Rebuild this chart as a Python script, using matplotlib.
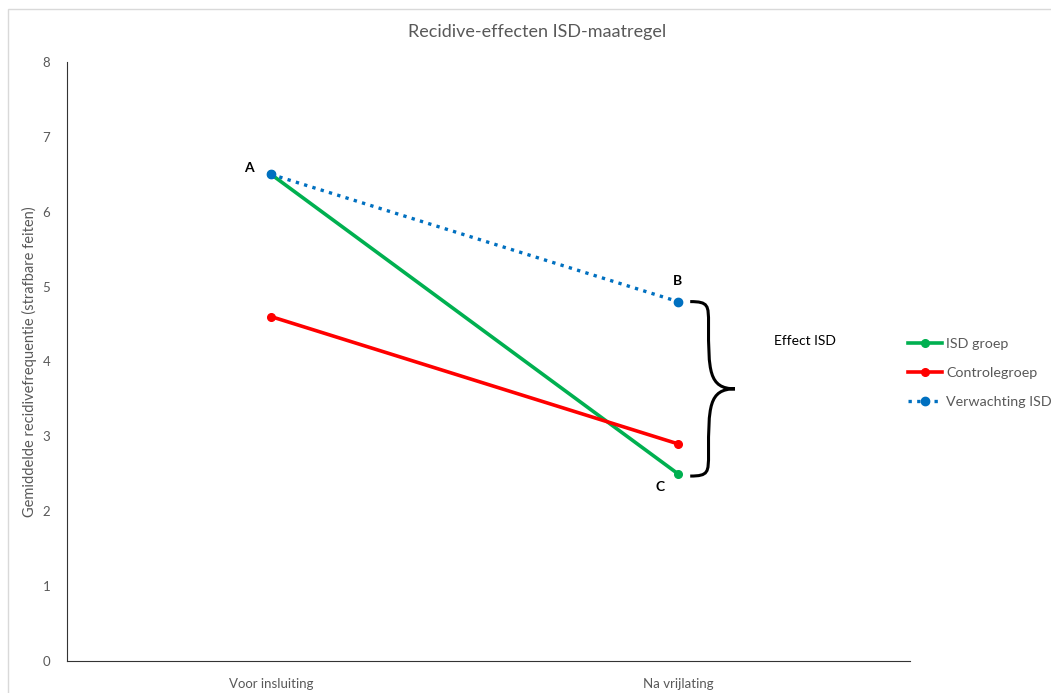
import matplotlib.pyplot as plt
from matplotlib.path import Path
from matplotlib.patches import PathPatch, Rectangle

plt.rcParams['font.family'] = ['Lato', 'DejaVu Sans']

# data
categories = ['Voor insluiting', 'Na vrijlating']
isd_groep = [6.5, 2.5]
controlegroep = [4.6, 2.9]
verwachting_isd = [6.5, 4.8]
yticks = [0, 1, 2, 3, 4, 5, 6, 7, 8]

grey = '#595959'

fig = plt.figure(figsize=(10.51, 6.93), dpi=100)
# light frame around the chart area (Excel chart border)
fig.patches.append(Rectangle((8/1051, -0.1), 1.2, 1 - 9/693 + 0.1, transform=fig.transFigure,
                             fill=False, edgecolor='#d9d9d9', linewidth=1))

ax = fig.add_axes([67/1051, 32/693, (910-67)/1051, (661-62)/693])
x = [0, 1]
l1, = ax.plot(x, isd_groep, color='#00b050', lw=2.6, marker='o', ms=5.5, zorder=3)
l2, = ax.plot(x, controlegroep, color='#ff0000', lw=2.6, marker='o', ms=5.5, zorder=3)
l3, = ax.plot(x, verwachting_isd, color='#0070c0', lw=2.4, ls=(0, (1, 1.6)), marker='o', ms=6, zorder=4)

ax.set_xlim(-204/407, 1 + 232/407)
ax.set_ylim(0, 8)
ax.set_yticks(yticks)
ax.set_xticks(x)
ax.set_xticklabels(categories)
for s in ['top', 'right']:
    ax.spines[s].set_visible(False)
ax.spines['left'].set_color('#333333')
ax.spines['bottom'].set_color('#333333')
ax.tick_params(length=0, colors=grey, labelsize=9.5)
ax.tick_params(axis='y', pad=12)
ax.tick_params(axis='x', pad=12)
ax.set_ylabel('Gemiddelde recidivefrequentie (strafbare feiten)', color=grey, fontsize=10.5, labelpad=4)
fig.text(537/1051, 1 - 32/693, 'Recidive-effecten ISD-maatregel', color=grey, fontsize=13,
         ha='center', va='center')

# point labels
ax.text(x[0] - 0.055, verwachting_isd[0], 'A', fontsize=10, fontweight='bold', ha='center', va='bottom')
ax.text(x[1], verwachting_isd[1] + 0.2, 'B', fontsize=10, fontweight='bold', ha='center', va='bottom')
ax.text(x[1] - 0.045, isd_groep[1] - 0.1, 'C', fontsize=10, fontweight='bold', ha='center', va='top')

# curly brace between B and C
top = verwachting_isd[1]
bot = isd_groep[1] - 0.03
mid = (top + bot) / 2
x0 = x[1] + 0.03
xm = x[1] + 0.075
xt = x[1] + 0.14
verts = [
    (x0, top), (xm, top), (xm, top - 0.05), (xm, top - 0.3),
    (xm, mid + 0.25), (xm, mid), (xt, mid),
    (xm, mid), (xm, mid - 0.25), (xm, bot + 0.3),
    (xm, bot + 0.05), (xm, bot), (x0, bot),
]
codes = [Path.MOVETO, Path.CURVE4, Path.CURVE4, Path.CURVE4,
         Path.CURVE4, Path.CURVE4, Path.CURVE4,
         Path.CURVE4, Path.CURVE4, Path.CURVE4,
         Path.CURVE4, Path.CURVE4, Path.CURVE4]
ax.add_patch(PathPatch(Path(verts, codes), fill=False, lw=2.2, edgecolor='black', clip_on=False))
ax.text(x[1] + 0.235, mid + 0.64, 'Effect ISD', fontsize=10, color='black', ha='left', va='center')

fig.legend([l1, l2, l3], ['ISD groep', 'Controlegroep', 'Verwachting ISD'],
           loc='center left', bbox_to_anchor=(895/1051, 1 - 373/693), frameon=False,
           fontsize=10.3, labelcolor=grey, handlelength=2.4, handletextpad=0.3, labelspacing=1.2)

fig.savefig('out.png', dpi=100)
